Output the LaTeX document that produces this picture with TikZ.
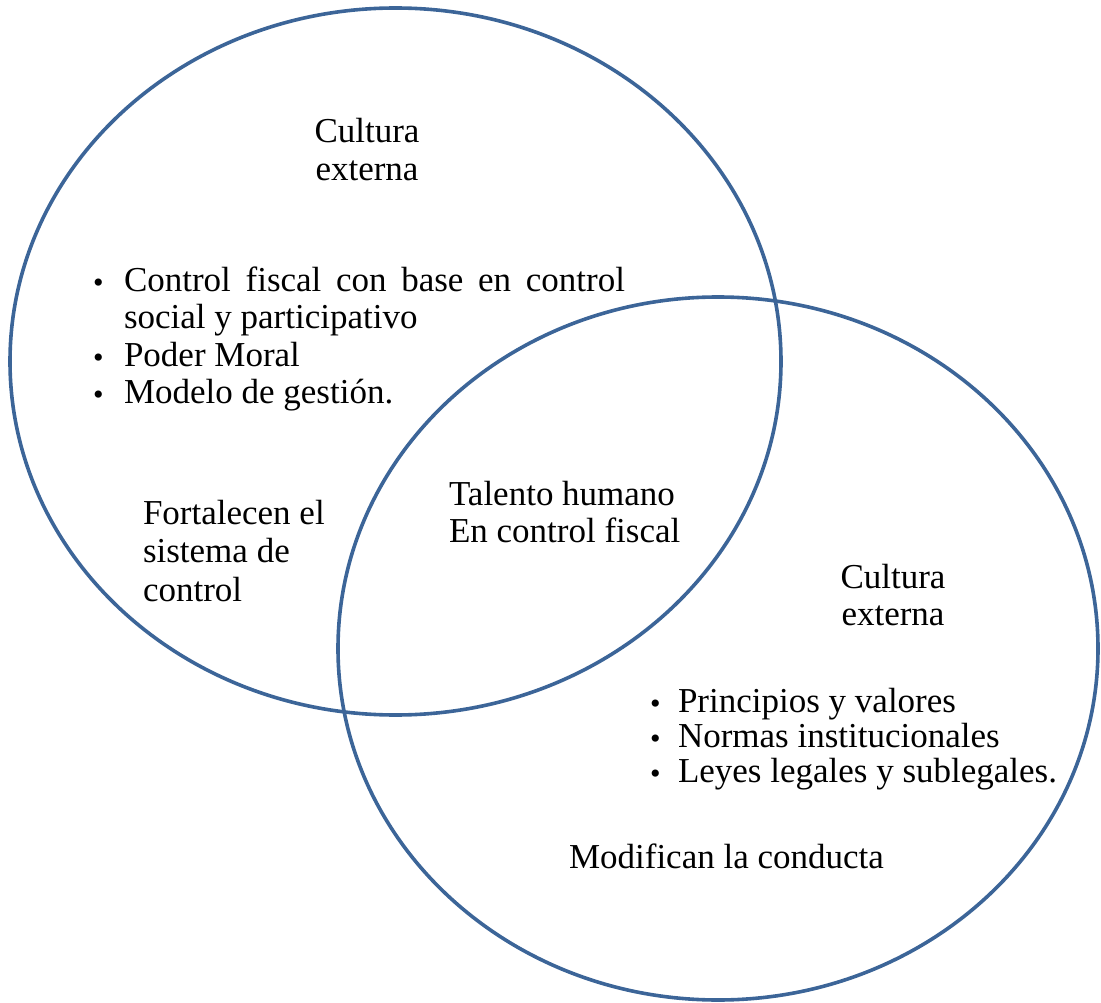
\documentclass[tikz,border=0pt]{standalone}
\usepackage{fontspec}
\setmainfont{Liberation Serif}
\definecolor{ringblue}{RGB}{60,101,152}
\newcommand\vbul[1]{\makebox[#1][l]{\raisebox{-1pt}{\fontsize{30}{30}\selectfont\textbullet}}}
\begin{document}
\begin{tikzpicture}[x=1pt,y=-1pt,
  ring/.style={draw=ringblue,line width=3.6pt},
  txt/.style={inner sep=0pt,outer sep=0pt,anchor=base west,font=\fontsize{35}{37.5}\selectfont},
  ctxt/.style={txt,anchor=base}]
\useasboundingbox (0,0) rectangle (1101,1003);
\draw[ring] (395.5,361.5) ellipse [x radius=385.5, y radius=353.5];
\draw[ring] (718,648.5) ellipse [x radius=380, y radius=351.5];

\node[ctxt] (c1) at (367,143) {\begin{tabular}[t]{@{}c@{}}Cultura\\externa\end{tabular}};
\node[txt] (l1) at (93,291) {\begin{tabular}[t]{@{}l@{}l@{}}
\vbul{31pt}&\makebox[501pt][s]{Control fiscal con base en control}\\
&social y participativo\\
\vbul{31pt}&Poder Moral\\
\vbul{31pt}&Modelo de gestión.\end{tabular}};
\node[txt,font=\fontsize{35}{38.5}\selectfont] (f1) at (143,524) {\begin{tabular}[t]{@{}l@{}}Fortalecen el\\sistema de\\control\end{tabular}};
\node[txt] (t1) at (449,505) {\begin{tabular}[t]{@{}l@{}}Talento humano\\En control fiscal\end{tabular}};
\node[ctxt] (c2) at (893,588) {\begin{tabular}[t]{@{}c@{}}Cultura\\externa\end{tabular}};
\node[txt,font=\fontsize{35}{35}\selectfont] (l2) at (650,712) {\begin{tabular}[t]{@{}l@{}l@{}}
\vbul{28pt}&Principios y valores\\
\vbul{28pt}&Normas institucionales\\
\vbul{28pt}&Leyes legales y sublegales.\end{tabular}};
\node[txt] (m1) at (569,868) {Modifican la conducta};
\end{tikzpicture}
\end{document}
